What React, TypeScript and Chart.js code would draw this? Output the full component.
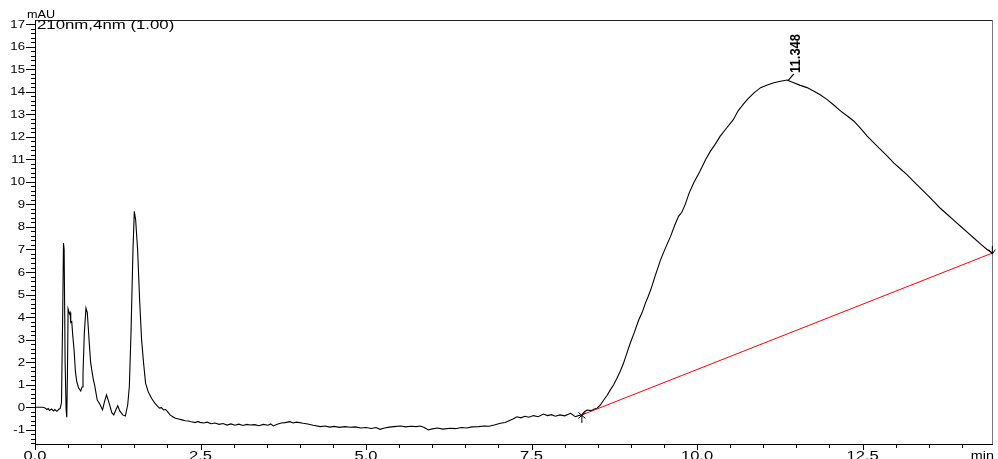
import React, { useEffect, useRef } from "react";
import { Chart, registerables } from "chart.js";

Chart.register(...registerables);

// Retention time (min)
const times = [
  0.0, 0.12, 0.15, 0.18, 0.2, 0.22, 0.25, 0.28, 0.3, 0.33, 0.36, 0.38, 0.4, 0.42, 0.43, 0.44, 0.455, 0.47, 0.48,
  0.49, 0.5, 0.52, 0.53, 0.54, 0.555, 0.57, 0.59, 0.61, 0.63, 0.66, 0.69, 0.71, 0.725, 0.745, 0.77, 0.79, 0.82,
  0.84, 0.857, 0.88, 0.9, 0.94, 0.98, 1.02, 1.05, 1.08, 1.12, 1.16, 1.19, 1.22, 1.25, 1.28, 1.325, 1.365, 1.4,
  1.425, 1.45, 1.48, 1.5, 1.52, 1.55, 1.58, 1.61, 1.64, 1.67, 1.71, 1.76, 1.81, 1.85, 1.88, 1.91, 1.94, 1.97,
  1.99, 2.04, 2.08, 2.12, 2.17, 2.22, 2.27, 2.32, 2.36, 2.42, 2.46, 2.49, 2.55, 2.6, 2.66, 2.72, 2.78, 2.84, 2.9,
  2.96, 3.02, 3.08, 3.14, 3.2, 3.25, 3.32, 3.38, 3.45, 3.52, 3.56, 3.6, 3.66, 3.72, 3.78, 3.85, 3.9, 3.95, 4.05,
  4.12, 4.2, 4.31, 4.38, 4.45, 4.52, 4.6, 4.68, 4.76, 4.84, 4.92, 5.0, 5.08, 5.15, 5.21, 5.28, 5.35, 5.42, 5.52,
  5.6, 5.68, 5.76, 5.82, 5.88, 5.94, 6.0, 6.08, 6.16, 6.27, 6.35, 6.44, 6.52, 6.6, 6.7, 6.78, 6.86, 6.95, 7.03,
  7.1, 7.16, 7.22, 7.28, 7.34, 7.4, 7.46, 7.53, 7.6, 7.68, 7.74, 7.8, 7.86, 7.93, 8.0, 8.09, 8.16, 8.22, 8.26,
  8.3, 8.34, 8.4, 8.44, 8.49, 8.54, 8.59, 8.64, 8.69, 8.74, 8.79, 8.84, 8.89, 8.94, 8.99, 9.05, 9.12, 9.17, 9.22,
  9.26, 9.3, 9.37, 9.45, 9.52, 9.6, 9.66, 9.72, 9.77, 9.82, 9.88, 9.95, 10.04, 10.13, 10.2, 10.27, 10.35, 10.45,
  10.55, 10.62, 10.7, 10.76, 10.86, 10.96, 11.06, 11.16, 11.26, 11.36, 11.46, 11.56, 11.66, 11.76, 11.86, 11.96,
  12.06, 12.17, 12.27, 12.37, 12.47, 12.57, 12.67, 12.77, 12.87, 12.97, 13.07, 13.17, 13.27, 13.37, 13.47, 13.57,
  13.67, 13.78, 13.88, 13.98, 14.08, 14.18, 14.28, 14.38, 14.46,
];

// Detector signal (mAU)
const signal = [
  0.0, 0.0, -0.03, -0.1, -0.06, -0.14, -0.08, -0.16, -0.1, -0.18, -0.09, -0.05, 0.2, 4.5, 7.29, 7.0, 2.0, -0.1,
  -0.44, 1.5, 4.36, 4.15, 4.2, 3.76, 3.8, 3.2, 2.55, 1.6, 1.15, 0.85, 0.72, 0.9, 1.5, 3.29, 4.4, 4.2, 2.84, 2.0,
  1.66, 1.25, 0.99, 0.32, 0.13, -0.12, 0.25, 0.55, 0.18, -0.24, -0.34, -0.12, 0.07, -0.16, -0.34, -0.39, 0.1,
  0.92, 3.29, 6.99, 8.69, 8.32, 6.99, 4.77, 2.99, 1.96, 1.07, 0.69, 0.4, 0.18, 0.05, -0.04, -0.02, -0.12, -0.1,
  -0.15, -0.34, -0.42, -0.49, -0.52, -0.56, -0.6, -0.61, -0.64, -0.68, -0.63, -0.67, -0.7, -0.66, -0.73, -0.7,
  -0.76, -0.72, -0.79, -0.74, -0.8, -0.75, -0.81, -0.76, -0.79, -0.77, -0.82, -0.76, -0.8, -0.74, -0.83, -0.75,
  -0.7, -0.68, -0.64, -0.7, -0.66, -0.71, -0.74, -0.8, -0.86, -0.83, -0.88, -0.85, -0.89, -0.86, -0.89, -0.87,
  -0.92, -0.9, -0.94, -0.9, -0.98, -0.92, -0.88, -0.86, -0.83, -0.87, -0.84, -0.86, -0.83, -0.9, -1.01, -0.96,
  -0.92, -0.97, -0.93, -0.95, -0.9, -0.92, -0.87, -0.86, -0.83, -0.84, -0.78, -0.71, -0.68, -0.6, -0.52, -0.42,
  -0.47, -0.4, -0.44, -0.37, -0.42, -0.3, -0.37, -0.33, -0.4, -0.34, -0.38, -0.27, -0.42, -0.36, -0.34, -0.2,
  -0.12, -0.15, -0.09, -0.04, 0.1, 0.32, 0.52, 0.77, 1.0, 1.29, 1.6, 1.96, 2.4, 2.84, 3.3, 3.88, 4.2, 4.62, 4.9,
  5.21, 5.85, 6.55, 7.05, 7.58, 8.05, 8.47, 8.65, 8.99, 9.5, 9.96, 10.45, 10.99, 11.35, 11.65, 12.03, 12.4,
  12.77, 13.15, 13.45, 13.66, 13.95, 14.18, 14.3, 14.4, 14.46, 14.52, 14.4, 14.28, 14.18, 14.03, 13.86, 13.66,
  13.42, 13.14, 12.92, 12.69, 12.37, 12.03, 11.73, 11.44, 11.15, 10.84, 10.58, 10.32, 10.02, 9.73, 9.44, 9.14,
  8.84, 8.55, 8.29, 8.03, 7.77, 7.51, 7.25, 7.0, 6.84,
];

// Integration baseline (red)
const baselineTimes = [8.26, 14.46];
const baselineValues = [-0.34, 6.84];

// Peak annotation
const peakTime = 11.348;
const peakValue = 14.52;
const peakLabel = "11.348";

// Axes
const xMin = 0;
const xMax = 14.47;
const yMin = -1.63;
const yMax = 17.18;
const xTickValues = [0, 2.5, 5, 7.5, 10, 12.5];
const xTickLabels = ["0.0", "2.5", "5.0", "7.5", "10.0", "12.5"];
const yTickValues = [-1, 0, 1, 2, 3, 4, 5, 6, 7, 8, 9, 10, 11, 12, 13, 14, 15, 16, 17];
const yTickLabels = yTickValues.map((v) => String(v));
const yUnit = "mAU";
const xUnit = "min";
const titleText = "210nm,4nm (1.00)";

const FONT = '"Liberation Sans", Arial, sans-serif';

function stretchedText(
  ctx: CanvasRenderingContext2D,
  text: string,
  x: number,
  y: number,
  align: CanvasTextAlign,
  baseline: CanvasTextBaseline,
  font: string,
  sx: number
) {
  ctx.save();
  ctx.translate(x, y);
  ctx.scale(sx, 1);
  ctx.font = font;
  ctx.textAlign = align;
  ctx.textBaseline = baseline;
  ctx.fillStyle = "#000";
  ctx.fillText(text, 0, 0);
  ctx.restore();
}

const chromPlugin = {
  id: "chromDecor",
  afterDraw(chart: any) {
    const { ctx, chartArea: a, scales } = chart;
    const xs = scales.x;
    const ys = scales.y;
    ctx.save();
    ctx.lineWidth = 1;

    // frame
    ctx.strokeStyle = "#222";
    ctx.beginPath();
    ctx.moveTo(a.left, a.top + 0.5);
    ctx.lineTo(a.right, a.top + 0.5);
    ctx.stroke();
    ctx.strokeStyle = "#777";
    ctx.beginPath();
    ctx.moveTo(a.right - 0.5, a.top);
    ctx.lineTo(a.right - 0.5, a.bottom);
    ctx.stroke();
    ctx.strokeStyle = "#000";
    ctx.beginPath();
    ctx.moveTo(a.left + 0.5, a.top);
    ctx.lineTo(a.left + 0.5, a.bottom + 1);
    ctx.moveTo(a.left, a.bottom + 0.5);
    ctx.lineTo(a.right, a.bottom + 0.5);
    ctx.stroke();

    // y ticks (major each unit, minor each 0.2)
    ctx.beginPath();
    for (let k = Math.ceil(yMin * 5); k <= Math.floor(yMax * 5); k++) {
      const v = k / 5;
      const py = Math.round(ys.getPixelForValue(v)) + 0.5;
      const len = k % 5 === 0 ? 9 : 4;
      ctx.moveTo(a.left - len, py);
      ctx.lineTo(a.left + 1, py);
    }
    // x ticks (every 0.5, major at labelled ones)
    for (let k = 0; k * 0.5 <= xMax; k++) {
      const t = k * 0.5;
      const px = Math.round(xs.getPixelForValue(t)) + 0.5;
      const len = k % 5 === 0 ? 5 : 3;
      ctx.moveTo(px, a.bottom);
      ctx.lineTo(px, a.bottom + 1 + len);
    }
    ctx.stroke();

    // labels
    yTickValues.forEach((v, i) => {
      const py = ys.getPixelForValue(v);
      stretchedText(ctx, yTickLabels[i], a.left - 10, py + 0.5, "right", "middle", `11px ${FONT}`, 1.2);
    });
    xTickValues.forEach((t, i) => {
      const px = xs.getPixelForValue(t);
      stretchedText(ctx, xTickLabels[i], px, a.bottom + 7, "center", "top", `12px ${FONT}`, 1.38);
    });
    stretchedText(ctx, xUnit, a.right + 1, a.bottom + 7, "right", "top", `12px ${FONT}`, 1.2);
    stretchedText(ctx, yUnit, a.left - 8, a.top - 5.5, "left", "middle", `11px ${FONT}`, 1.15);
    stretchedText(ctx, titleText, a.left + 2, a.top + 5.5, "left", "middle", `12px ${FONT}`, 1.4);

    // baseline start marker
    const sx = xs.getPixelForValue(baselineTimes[0]);
    const sy = ys.getPixelForValue(baselineValues[0]);
    ctx.strokeStyle = "#000";
    ctx.beginPath();
    ctx.moveTo(sx - 3.5, sy - 2.5);
    ctx.lineTo(sx + 3.5, sy + 3.5);
    ctx.moveTo(sx + 3.5, sy - 2.5);
    ctx.lineTo(sx - 3.5, sy + 3.5);
    ctx.moveTo(sx, sy);
    ctx.lineTo(sx, sy + 8);
    ctx.stroke();

    // baseline end marker
    const ex = xs.getPixelForValue(baselineTimes[1]);
    const ey = ys.getPixelForValue(baselineValues[1]);
    ctx.beginPath();
    ctx.moveTo(ex, ey - 7);
    ctx.lineTo(ex, ey + 1);
    ctx.moveTo(ex - 3.5, ey - 3.5);
    ctx.lineTo(ex, ey + 1);
    ctx.lineTo(ex + 3, ey - 3.5);
    ctx.stroke();

    // peak label
    const ppx = xs.getPixelForValue(peakTime);
    const ppy = ys.getPixelForValue(peakValue);
    ctx.lineWidth = 1.2;
    ctx.beginPath();
    ctx.moveTo(ppx + 1.5, ppy + 1);
    ctx.lineTo(ppx + 7.5, ppy - 6);
    ctx.stroke();
    ctx.save();
    ctx.translate(ppx + 13.5, ppy - 7);
    ctx.scale(1.15, 1);
    ctx.rotate(-Math.PI / 2);
    ctx.font = `bold 13px ${FONT}`;
    ctx.textAlign = "left";
    ctx.textBaseline = "alphabetic";
    ctx.fillStyle = "#000";
    ctx.fillText(peakLabel, 0, 0);
    ctx.restore();

    ctx.restore();
  },
};

export default function App() {
  const canvasRef = useRef<HTMLCanvasElement | null>(null);

  useEffect(() => {
    if (!canvasRef.current) return;
    const chart = new Chart(canvasRef.current, {
      type: "line",
      data: {
        datasets: [
          {
            label: "baseline",
            data: baselineTimes.map((t, i) => ({ x: t, y: baselineValues[i] })),
            borderColor: "#ff0000",
            borderWidth: 1,
            pointRadius: 0,
            fill: false,
          },
          {
            label: "210nm",
            data: times.map((t, i) => ({ x: t, y: signal[i] })),
            borderColor: "#000000",
            borderWidth: 1.1,
            pointRadius: 0,
            tension: 0,
            fill: false,
          },
        ],
      },
      options: {
        responsive: false,
        animation: false,
        events: [],
        layout: { padding: { left: 35, top: 20, right: 5, bottom: 15 } },
        plugins: { legend: { display: false }, tooltip: { enabled: false } },
        scales: {
          x: { type: "linear", min: xMin, max: xMax, display: false },
          y: { type: "linear", min: yMin, max: yMax, display: false },
        },
      },
      plugins: [chromPlugin],
    });
    return () => chart.destroy();
  }, []);

  return (
    <div style={{ position: "fixed", left: 0, top: 0, width: 998, height: 459, background: "#fff" }}>
      <canvas ref={canvasRef} width={998} height={459} style={{ width: 998, height: 459, display: "block" }} />
    </div>
  );
}
